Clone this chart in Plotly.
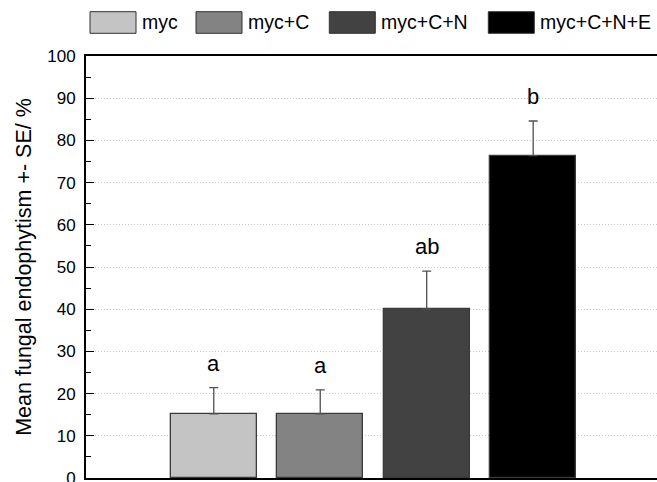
import plotly.graph_objects as go

# ---- data ----
groups = ["myc", "myc+C", "myc+C+N", "myc+C+N+E"]
means = [15.2, 15.2, 40.0, 76.4]
se = [6.2, 5.7, 9.0, 8.2]
letters = ["a", "a", "ab", "b"]
colors = ["#c4c4c4", "#838383", "#424242", "#000000"]
y_ticks = [0, 10, 20, 30, 40, 50, 60, 70, 80, 90, 100]

W, H = 657, 482
ML, MR, MT, MB = 86, 0, 56, 4
PW, PH = W - ML - MR, H - MT - MB
FONT = "Liberation Sans, Arial, sans-serif"


def px_x(p):
    return (p - ML) / PW


def px_y(p):
    return (H - MB - p) / PH


fig = go.Figure()
fig.add_trace(go.Bar(
    x=groups, y=means, width=0.807,
    marker=dict(color=colors, line=dict(color="#3a3a3a", width=1.3)),
    error_y=dict(type="data", symmetric=False, array=se,
                 arrayminus=[0] * len(se), visible=True, color="#505050",
                 thickness=1.3, width=4.5),
    showlegend=False,
))

# significance letters
for g, m, s, t in zip(groups, means, se, letters):
    fig.add_annotation(x=g, y=m + s, text=t, showarrow=False,
                       yanchor="bottom", yshift=10,
                       font=dict(family=FONT, size=22, color="black"))

# custom legend (boxes + labels)
box_left = [90, 196, 329.3, 488.3]
box_w = 46
for name, col, bl in zip(groups, colors, box_left):
    fig.add_shape(type="rect", xref="paper", yref="paper",
                  x0=px_x(bl), x1=px_x(bl + box_w),
                  y0=px_y(33.3), y1=px_y(11.7),
                  fillcolor=col, line=dict(color="#333333", width=1))
    fig.add_annotation(xref="paper", yref="paper", x=px_x(bl + box_w + 4),
                       y=px_y(22.5), text=name, showarrow=False,
                       xanchor="left", yanchor="middle",
                       font=dict(family=FONT, size=19.5, color="black"))

fig.update_layout(
    width=W, height=H,
    margin=dict(l=ML, r=MR, t=MT, b=MB, autoexpand=False),
    paper_bgcolor="white", plot_bgcolor="white",
    font=dict(family=FONT, color="black"),
    bargap=0,
)
fig.update_xaxes(
    range=[-1.2, 4.163], showticklabels=False, ticks="",
    showline=True, linecolor="black", linewidth=1.8, mirror=True,
    showgrid=False, zeroline=False,
)
fig.update_yaxes(
    range=[0, 100], tickvals=y_ticks, ticks="inside", ticklen=8,
    tickcolor="black", tickwidth=1.3,
    tickfont=dict(family=FONT, size=17, color="black"),
    ticklabelstandoff=5, ticklabeloverflow="allow",
    showline=True, linecolor="black", linewidth=1.8,
    showgrid=True, gridcolor="#c8c8c8", griddash="1px,2px", gridwidth=1,
    zeroline=False,
    minor=dict(dtick=5, ticks="inside", ticklen=5, tickcolor="black",
               tickwidth=1.2, showgrid=False),
    title=dict(text="Mean fungal endophytism +- SE/ %",
               font=dict(family=FONT, size=21.5, color="black"), standoff=10),
)

fig.write_html("out.html", config={"displayModeBar": False},
               post_script="document.body.style.margin='0';")
